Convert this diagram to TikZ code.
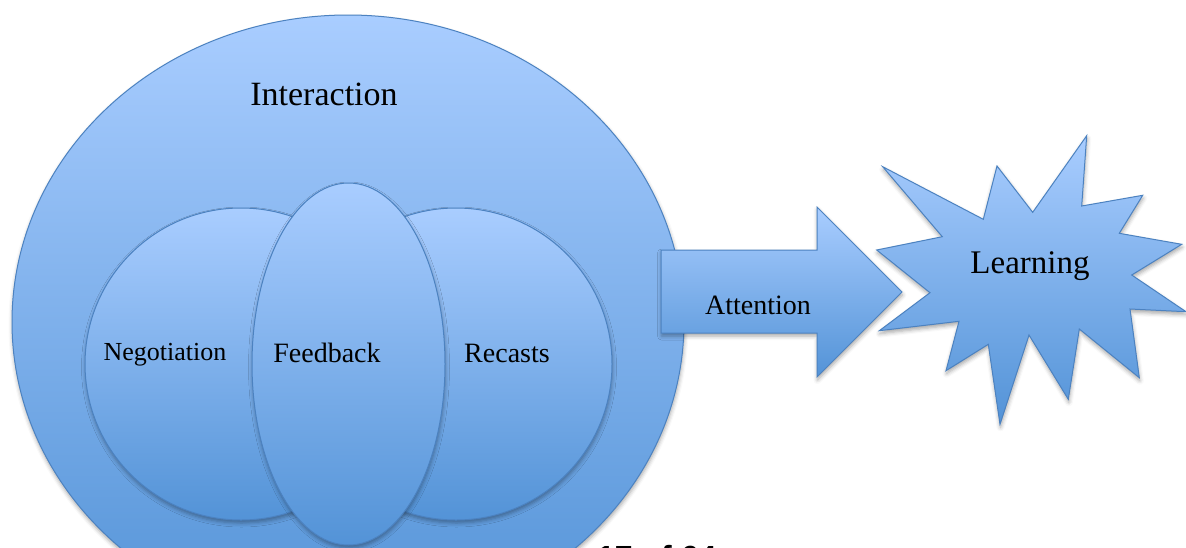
\documentclass[tikz,border=0pt]{standalone}
\usepackage{fontspec}
\setmainfont{Liberation Serif}
\newfontfamily\pagefont{Liberation Sans}
\usetikzlibrary{shadows.blur}

\definecolor{shapetop}{HTML}{A9CDFF}
\definecolor{shapebot}{HTML}{5393D7}
\definecolor{shapeline}{HTML}{4C82C0}

\begin{document}
\begin{tikzpicture}[x=1pt,y=1pt,
  blob/.style={draw=shapeline, line width=1pt, line join=miter,
    top color=shapetop, bottom color=shapebot,
    blur shadow={shadow xshift=0.5pt, shadow yshift=-3pt,
      shadow blur radius=4pt, shadow opacity=35}},
  lbl/.style={inner sep=0pt, text=black, anchor=base}]

\clip (0,0) rectangle (1186,-547);

% outer set: Interaction
\path[blob] (348,-322) ellipse [x radius=336, y radius=307];
\node[lbl, font=\fontsize{34}{40}\selectfont] (interaction) at (324,-105) {Interaction};

% the three overlapping members
\path[blob] (241,-364) circle [radius=156];
\path[blob] (456,-364) circle [radius=156];
\path[blob] (348.5,-364) ellipse [x radius=96.5, y radius=181];

\node[lbl, font=\fontsize{26}{30}\selectfont] (negotiation) at (165,-360) {Negotiation};
\node[lbl, font=\fontsize{28}{32}\selectfont] (feedback) at (327,-362) {Feedback};
\node[lbl, font=\fontsize{28}{32}\selectfont] (recasts) at (507,-362) {Recasts};

% block arrow
\path[blob] (661,-250) -- (817,-250) -- (817,-207) -- (902,-292)
  -- (817,-377) -- (817,-333) -- (661,-333) -- cycle;
\node[lbl, font=\fontsize{28}{32}\selectfont] (attention) at (758,-314) {Attention};

% burst
\path[blob] (882.7,-166.7) -- (983.3,-219.3) -- (997,-166) -- (1032.7,-212.3)
  -- (1086.7,-135.7) -- (1081.7,-206) -- (1142.7,-195.3) -- (1119.3,-233.3)
  -- (1181.7,-244.3) -- (1131.7,-275) -- (1186,-311.7) -- (1130,-309)
  -- (1139.3,-377.7) -- (1079.3,-329) -- (1068.3,-399.3) -- (1029,-335)
  -- (1000,-424.3) -- (988.3,-344.3) -- (946,-370.7) -- (959,-321.3)
  -- (879.3,-330.7) -- (930,-292.7) -- (876.7,-250) -- (942.3,-236.7) -- cycle;
\node[lbl, font=\fontsize{33}{38}\selectfont] (learning) at (1030,-273) {Learning};

% page counter
\node[inner sep=0pt, anchor=base west, font=\pagefont\bfseries\fontsize{32}{36}\selectfont] (pagenum) at (597,-568) {17 of 64};
\end{tikzpicture}
\end{document}
